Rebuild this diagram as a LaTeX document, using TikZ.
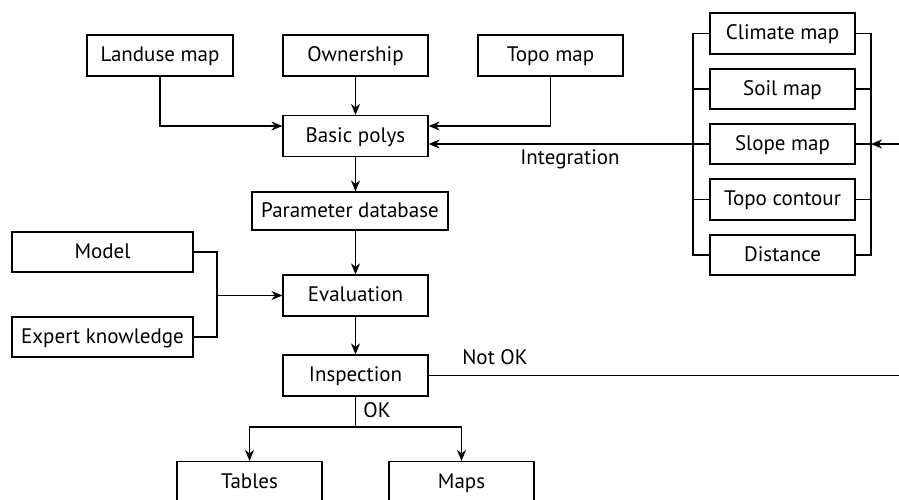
\documentclass[tikz,border=0pt]{standalone}
\usepackage{fontspec}
\setmainfont{PT Sans}
\usetikzlibrary{arrows.meta}
\begin{document}
\begin{tikzpicture}[x=1pt,y=-1pt,
  every node/.style={font=\fontsize{21}{25}\selectfont, inner sep=0pt, text height=14.7pt, text depth=2.1pt},
  box/.style={draw, line width=1.2pt, minimum height=41pt, minimum width=145pt, anchor=center},
  line/.style={line width=1.2pt},
  arr/.style={line width=1.2pt, -{Stealth[length=11pt,width=9pt,inset=3.5pt]}}]
\clip (0,0) rectangle (899,499);
\useasboundingbox (0,0) rectangle (899,499);
% nodes
\node[box, minimum width=146pt] (landuse) at (160,55.5) {Landuse map};
\node[box] (owner) at (355.5,55.5) {Ownership};
\node[box] (topo) at (550.5,55.5) {Topo map};
\node[box] (basic) at (355.5,136) {Basic polys};
\node[box, minimum width=196pt, minimum height=38pt] (param) at (350,211) {Parameter database};
\node[box, minimum width=181pt, minimum height=40pt] (model) at (102.5,252) {Model};
\node[box, minimum width=181pt, minimum height=40pt] (expert) at (102.5,337) {Expert knowledge};
\node[box] (eval) at (355.5,295.5) {Evaluation};
\node[box] (insp) at (355.5,375.5) {Inspection};
\node[box] (climate) at (782.5,33.5) {Climate map};
\node[box, minimum height=40pt] (soil) at (782.5,89) {Soil map};
\node[box, minimum height=40pt] (slope) at (782.5,144) {Slope map};
\node[box] (topoc) at (782.5,199.5) {Topo contour};
\node[box, minimum height=40pt] (dist) at (782.5,255) {Distance};
\node[box] (tables) at (249.5,482) {Tables};
\node[box] (maps) at (461.5,482) {Maps};
% labels
\node (integ) at (570,158) {Integration};
\node (notok) at (495,358) {Not OK};
\node (ok) at (377,411) {OK};
% coordinates
\coordinate (lbus) at (693,144);
\coordinate (rbus) at (871,144);
\coordinate (rin) at (899,144);
\coordinate (nok) at (899,376);
\coordinate (split) at (355.5,427);
\coordinate (mj) at (217,295.5);
% connectors top
\draw[arr] (landuse.south) |- ([yshift=10pt]basic.west);
\draw[arr] (owner.south) -- (basic.north);
\draw[arr] (topo.south) |- ([yshift=10pt]basic.east);
\draw[arr] (lbus) -- (lbus -| basic.east);
% right group buses
\draw[line] (climate.west) -| (lbus |- dist.west) -- (dist.west);
\draw[line] (soil.west) -- (soil.west -| lbus);
\draw[line] (slope.west) -- (lbus);
\draw[line] (topoc.west) -- (topoc.west -| lbus);
\draw[line] (climate.east) -| (rbus |- dist.east) -- (dist.east);
\draw[line] (soil.east) -- (soil.east -| rbus);
\draw[line] (slope.east) -- (rbus);
\draw[line] (topoc.east) -- (topoc.east -| rbus);
\draw[arr] (rin) -- (rbus);
% main flow
\draw[arr] (basic.south) -- (basic.south |- param.north);
\draw[arr] (param.south -| basic.south) -- (eval.north);
\draw[line] (model.east) -| (mj) |- (expert.east);
\draw[arr] (mj) -- (eval.west);
\draw[arr] (eval.south) -- (insp.north);
\draw[line] (insp.east) -- (insp.east -| nok);
\draw[line] (insp.south) -- (split);
\draw[arr] (split) -| (tables.north);
\draw[arr] (split) -| (maps.north);
\end{tikzpicture}
\end{document}
